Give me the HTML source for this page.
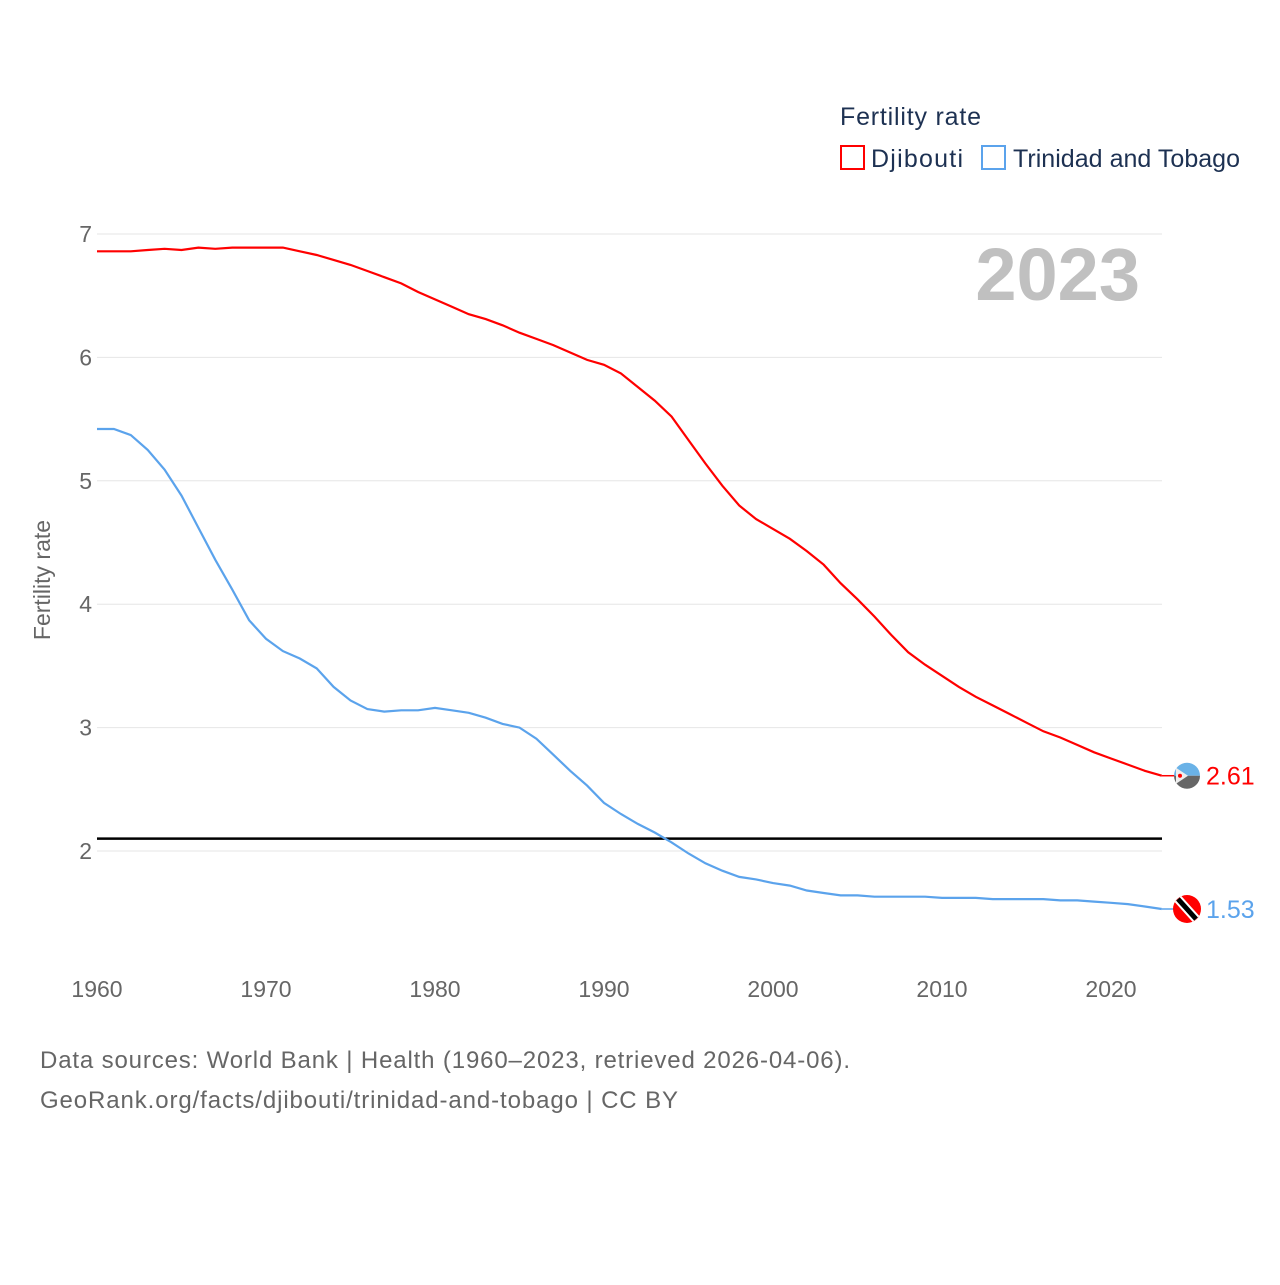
<!DOCTYPE html>
<html><head><meta charset="utf-8"><style>
body{margin:0;background:#fff;font-family:"Liberation Sans",sans-serif}
</style></head><body>
<svg id="chart" width="1280" height="1280" xmlns="http://www.w3.org/2000/svg">
<text x="840" y="125" font-size="25" fill="#1d3152" textLength="141">Fertility rate</text>
<g><rect x="841" y="146" width="23" height="23" fill="none" stroke="#ff0000" stroke-width="2"/><text x="871" y="167" font-size="25" fill="#1d3152" textLength="92">Djibouti</text></g>
<g><rect x="982" y="146" width="23" height="23" fill="none" stroke="#5ba3ec" stroke-width="2"/><text x="1013" y="167" font-size="25" fill="#1d3152" textLength="227">Trinidad and Tobago</text></g>
<text x="1140" y="300" text-anchor="end" font-size="74" font-weight="bold" fill="#c0c0c0">2023</text>
<g id="grid"></g><g id="ticks"></g>
<text transform="translate(50,580) rotate(-90)" text-anchor="middle" font-size="23" fill="#666">Fertility rate</text>
<g id="series"></g>
<text x="40" y="1068" font-size="24" fill="#666" textLength="810">Data sources: World Bank | Health (1960–2023, retrieved 2026-04-06).</text>
<text x="40" y="1108" font-size="24" fill="#666" textLength="638">GeoRank.org/facts/djibouti/trinidad-and-tobago | CC BY</text>
</svg>
<script>
const years=[];for(let y=1960;y<=2023;y++)years.push(y);
const yTicks=[2,3,4,5,6,7];
const xTicks=[1960,1970,1980,1990,2000,2010,2020];
const djibouti=[6.86,6.86,6.86,6.87,6.88,6.87,6.89,6.88,6.89,6.89,6.89,6.89,6.86,6.83,6.79,6.75,6.70,6.65,6.60,6.53,6.47,6.41,6.35,6.31,6.26,6.20,6.15,6.10,6.04,5.98,5.94,5.87,5.76,5.65,5.52,5.33,5.14,4.96,4.80,4.69,4.61,4.53,4.43,4.32,4.17,4.04,3.90,3.75,3.61,3.51,3.42,3.33,3.25,3.18,3.11,3.04,2.97,2.92,2.86,2.80,2.75,2.70,2.65,2.61];
const trinidad=[5.42,5.42,5.37,5.25,5.09,4.88,4.62,4.36,4.12,3.87,3.72,3.62,3.56,3.48,3.33,3.22,3.15,3.13,3.14,3.14,3.16,3.14,3.12,3.08,3.03,3.00,2.91,2.78,2.65,2.53,2.39,2.30,2.22,2.15,2.07,1.98,1.90,1.84,1.79,1.77,1.74,1.72,1.68,1.66,1.64,1.64,1.63,1.63,1.63,1.63,1.62,1.62,1.62,1.61,1.61,1.61,1.61,1.60,1.60,1.59,1.58,1.57,1.55,1.53];
const replacement=2.1;
const X=y=>97+(y-1960)*16.9, Y=v=>851-(v-2)*123.4;
const NS="http://www.w3.org/2000/svg";
function mk(t,a,p){const e=document.createElementNS(NS,t);for(const k in a)e.setAttribute(k,a[k]);p.appendChild(e);return e;}
const grid=document.getElementById('grid'),ticks=document.getElementById('ticks'),series=document.getElementById('series');
yTicks.forEach(v=>{
 const l=mk('line',{x1:97,x2:1162,y1:Y(v),y2:Y(v),stroke:'#e6e6e6','stroke-width':1},grid);
 
 
 const t=mk('text',{x:92,y:Y(v)+8,'text-anchor':'end','font-size':23,fill:'#666'},ticks);t.textContent=v;
 
 
});
xTicks.forEach(v=>{
 const t=mk('text',{x:X(v),y:997,'text-anchor':'middle','font-size':23,fill:'#666'},ticks);t.textContent=v;
 
 
});
const rl=mk('line',{x1:97,x2:1162,y1:Y(replacement),y2:Y(replacement),stroke:'#000','stroke-width':2.5},series);


function line(d,c,n){
 const p=mk('path',{d:d.map((v,i)=>(i?'L':'M')+X(years[i]).toFixed(1)+','+Y(v).toFixed(1)).join(''),fill:'none',stroke:c,'stroke-width':2.2},series);
 
 
 const last=d[d.length-1],ly=Y(last);
 mk('line',{x1:X(2023),x2:1175,y1:ly,y2:ly,stroke:c,'stroke-width':1.5},series);
 const t=mk('text',{x:1206,y:ly+9,'font-size':25,fill:c},series);t.textContent=last.toFixed(2);
 
 
 return ly;
}
const dy=line(djibouti,'#ff0000','djibouti');
const ty=line(trinidad,'#5ba3ec','trinidad');
const f1=mk('g',{},series);
mk('path',{d:`M1174,${dy} A13,13 0 0 1 1200,${dy} Z`,fill:'#6ab2e7'},f1);
mk('path',{d:`M1174,${dy} A13,13 0 0 0 1200,${dy} Z`,fill:'#666'},f1);
mk('path',{d:`M1176,${dy-8} L1188,${dy} L1176,${dy+8} Z`,fill:'#eee'},f1);
mk('circle',{cx:1180,cy:dy,r:2,fill:'#f00'},f1);
const f2=mk('g',{},series);
mk('circle',{cx:1187,cy:ty,r:14,fill:'#ff0000'},f2);
mk('line',{x1:1178,y1:ty-10,x2:1196,y2:ty+10,stroke:'#fff','stroke-width':9},f2);
mk('line',{x1:1178,y1:ty-10,x2:1196,y2:ty+10,stroke:'#000','stroke-width':5},f2);
</script>
</body></html>
